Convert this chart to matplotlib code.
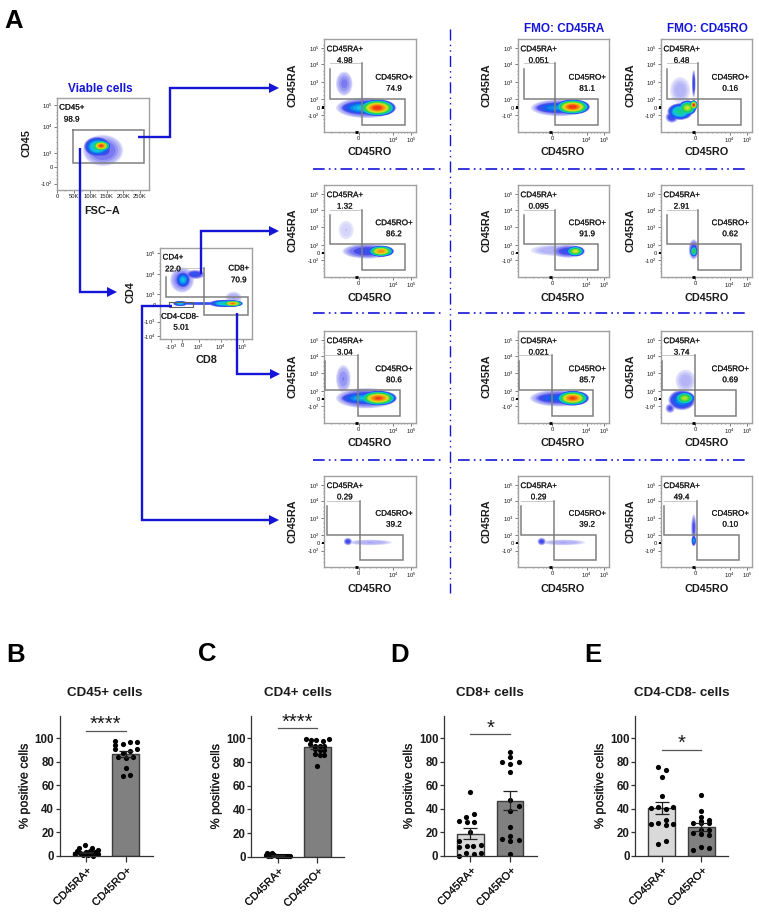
# flow gating figure plus four bar charts, laid out in pixel coordinates
import numpy as np
from matplotlib import pyplot as plt
from matplotlib import patheffects
from matplotlib.colors import LinearSegmentedColormap
from matplotlib.patches import Ellipse

plt.rcParams['font.family'] = ['Liberation Sans', 'DejaVu Sans']
plt.rcParams['mathtext.fontset'] = 'custom'
plt.rcParams['mathtext.rm'] = 'Liberation Sans'
plt.rcParams['mathtext.default'] = 'rm'

W = 759
H = 918
BLUE = '#1515d8'
TEXT = '#1a1a1a'
heavier = [patheffects.withStroke(linewidth=0.1, foreground=TEXT)]

# ---- bar chart data ----
bar_labels = ['CD45RA+', 'CD45RO+']

b_means = [3.0, 87.0]
b_errs = [0.7, 2.5]
b_ra_vals = [9.3, 6.5, 6.5, 5.0, 1.7, 2.8, 3.7, 2.8, 1.7, 4.5, 0.9, 0.5, 0.3, 2.0, 3.2, 4.0]
b_ra_off = [-0.03, -0.17, 0.14, 0.29, -0.28, -0.15, 0.0, 0.12, 0.27, -0.22, -0.08, 0.05, 0.18, 0.3, 0.22, 0.09]
b_ro_vals = [98, 94.3, 90.6, 95.2, 96.6, 96.6, 87.8, 89.2, 90.6, 83.9, 83, 83.9, 74.8, 68.3, 69.1]
b_ro_off = [-0.28, -0.28, -0.28, -0.08, 0.1, 0.28, -0.08, 0.1, 0.28, -0.19, 0, 0.19, 0, -0.08, 0.1]

c_means = [0.9, 92.5]
c_errs = [0.3, 1.5]
c_ra_vals = [3.4, 2.6, 2.8, 1.2, 0.6, 1.8, 1.0, 0.4, 0.8, 0.3, 0.5, 0.2, 0.6, 0.2, 0.4]
c_ra_off = [-0.26, -0.2, -0.14, -0.3, -0.24, -0.08, -0.02, -0.16, 0.05, 0.1, 0.16, 0.22, 0.27, 0.02, 0.3]
c_ro_vals = [99.4, 99, 99, 98, 99.7, 95, 94, 94, 94, 90.5, 91, 90, 87, 86, 86, 77]
c_ro_off = [-0.28, -0.15, -0.03, 0.14, 0.29, -0.18, -0.07, 0.06, 0.18, 0.18, -0.05, 0.08, -0.07, 0.06, 0.18, 0]

d_means = [19.0, 47.0]
d_errs = [4.4, 8.0]
d_ra_vals = [54.4, 33, 35.4, 30, 29, 29, 20.7, 12.7, 8, 8.5, 8.5, 9.3, 2.8, 1.7, 2.8, 0.3]
d_ra_off = [0, -0.11, 0.1, -0.28, -0.09, 0.1, 0, -0.28, -0.28, -0.09, 0.08, 0.27, -0.11, 0.1, 0.27, -0.28]
d_ro_vals = [88.4, 84.4, 80, 79.6, 78, 71, 47.6, 42.8, 38.5, 25, 17.3, 14.4, 12.7, 13.3, 2]
d_ro_off = [0, 0, -0.2, 0.22, 0, 0, 0, 0.22, 0, 0, 0, -0.2, 0, 0.22, 0]

e_means = [41.0, 24.5]
e_errs = [5.0, 3.5]
e_ra_vals = [75.6, 73, 67, 50.7, 40.5, 41.4, 39.7, 42, 30.6, 27.2, 27.8, 26.3, 27.2, 13, 10.5]
e_ra_off = [-0.09, 0.1, 0, 0, -0.28, -0.09, 0.1, 0.29, 0.1, -0.28, -0.09, 0.1, 0.29, 0.1, -0.09]
e_ro_vals = [51.6, 38.5, 33.4, 30, 31, 27.8, 27.8, 27.8, 19.3, 21.8, 22, 18.7, 17.8, 8, 6.5, 5]
e_ro_off = [0, 0, 0, 0, 0.2, -0.2, 0, 0.2, -0.2, 0, 0.2, 0, 0.2, 0, 0.2, -0.2]

# ---- flow panels: population blobs as (x, y, x radius, y radius, peak density), percent of the panel ----
viable_blobs = [(50, 43, 22, 17, 0.11), (44, 47, 15, 11, 0.42), (48, 48, 10, 6, 0.95)]
tcell_blobs = [(80, 45, 9, 7, 0.05), (24, 65, 13, 14, 0.1), (25, 65, 8, 9, 0.33), (38, 71, 11, 5, 0.16),
               (45, 39, 32, 1.5, 0.2), (22, 39, 8, 2.8, 0.35), (70, 39, 17, 4, 0.4), (79, 39, 11, 3.4, 0.9)]

r1_c1 = [(22, 52, 9, 13, 0.08), (46, 26, 33, 11, 0.16), (43, 26, 27, 8, 0.34), (58, 26, 20, 9, 0.98)]
r1_c2 = [(46, 26, 32, 9, 0.14), (42, 26, 26, 6.5, 0.28), (60, 27, 19, 8, 0.98)]
r1_c3 = [(21, 45, 11, 14, 0.04), (36, 52, 1.8, 15, 0.16), (12, 16, 7, 6, 0.16), (21, 22, 14, 9, 0.45), (29, 26, 10, 8, 0.7), (36, 29, 4, 5, 1.0)]
r2_c1 = [(24, 51, 8, 10, 0.02), (47, 28, 27, 8, 0.14), (62, 28, 14, 6, 0.88)]
r2_c2 = [(42, 29, 28, 6, 0.05), (55, 28, 19, 7, 0.14), (63, 28, 10, 5.5, 0.72)]
r2_c3 = [(36, 30, 5.5, 11, 0.14), (36, 28, 4, 6, 0.55)]
r3_c1 = [(21, 48, 8, 15, 0.07), (46, 27, 33, 11, 0.15), (42, 27, 26, 7, 0.32), (59, 27, 20, 8, 0.95)]
r3_c2 = [(45, 27, 32, 9, 0.14), (40, 27, 24, 6, 0.22), (60, 27, 18, 8, 0.95)]
r3_c3 = [(27, 46, 11, 12, 0.04), (10, 16, 5, 5, 0.12), (23, 25, 15, 11, 0.3), (26, 27, 11, 7, 0.68)]
r4_c1 = [(50, 27, 24, 3, 0.05), (26, 28, 4.5, 4, 0.14)]
r4_c2 = [(50, 27, 24, 3, 0.05), (26, 28, 4.5, 4, 0.14)]
r4_c3 = [(36, 43, 2.6, 15, 0.12), (36, 29, 2.4, 6, 0.3)]

# values printed beside the gates
ra_values = [['4.98', '0.051', '6.48'], ['1.32', '0.095', '2.91'], ['3.04', '0.021', '3.74'], ['0.29', '0.29', '49.4']]
ro_values = [['74.9', '81.1', '0.16'], ['86.2', '91.9', '0.62'], ['80.6', '85.7', '0.69'], ['39.2', '39.2', '0.10']]
row_blobs = [[r1_c1, r1_c2, r1_c3], [r2_c1, r2_c2, r2_c3], [r3_c1, r3_c2, r3_c3], [r4_c1, r4_c2, r4_c3]]

density = LinearSegmentedColormap.from_list('density', [
    (0.0, '#e4e4fb'), (0.03, '#b0b0f6'), (0.1, '#4848ec'), (0.2, '#1060f0'), (0.32, '#10c8e0'),
    (0.5, '#18d050'), (0.7, '#d8e820'), (0.85, '#f89010'), (1.0, '#f01010')])
density_levels = [0, 0.01, 0.02, 0.03, 0.05, 0.07, 0.1, 0.13, 0.16, 0.2, 0.24, 0.28, 0.32, 0.36, 0.4, 0.45,
                  0.5, 0.55, 0.6, 0.65, 0.7, 0.75, 0.8, 0.85, 0.9, 0.95, 1.0]

fig = plt.figure(figsize=(W/100, H/100), dpi=100)


def px_axes(left, top, right, bottom):
    return fig.add_axes([left/W, 1 - bottom/H, (right - left)/W, (bottom - top)/H])


def power(exp, neg=False):
    sign = '-' if neg else ''
    return sign + '10$^{' + str(exp) + '}$'


def flow_panel(box, blobs, xticks, xlabels, yticks, ylabels, xminor, yminor):
    ax = px_axes(*box)
    ax.set_xlim(0, 100)
    ax.set_ylim(0, 100)
    for level in density_levels:
        for cx, cy, rx, ry, peak in blobs:
            if peak >= level:
                scale = (1 - level/peak*0.98)**0.5
                ax.add_patch(Ellipse((cx, cy), 2*rx*scale, 2*ry*scale, color=density(level), lw=0))
    for side in ax.spines.values():
        side.set_color('#a0a0a0')
        side.set_linewidth(1.0)
    ax.set_xticks(xticks, xlabels, fontsize=4.2, color=TEXT)
    ax.set_yticks(yticks, ylabels, fontsize=4.2, color=TEXT)
    ax.set_xticks(xminor, minor=True)
    ax.set_yticks(yminor, minor=True)
    ax.tick_params(length=2, width=0.5, pad=1, color='#444444')
    ax.tick_params(which='minor', length=1, width=0.4, color='#444444')
    return ax


def gate(ax, xs, ys, color='#808080', lw=1.1):
    ax.plot(xs, ys, color=color, lw=lw, solid_joinstyle='miter', zorder=3)


def panel_text(ax, x, y, s, size=5.8):
    ax.text(x, y, s, fontsize=size, color=TEXT, ha='center', va='center', zorder=5, path_effects=heavier)


# ---- right hand grid of CD45RA / CD45RO panels ----
col_lefts = [324, 518, 661]
col_rights = [416, 609, 752]
row_tops = [39, 185, 331, 476]
row_bottoms = [132, 277, 423, 567]
ra_label_x = [293, 487, 631]
ro_label_x = [370, 563, 707]
ra_label_y = [85, 230, 376, 521]
ro_label_y = [152, 298, 443, 589]

# gate corners per row: left, middle, right and the y of top, split and bottom
gate_x = [(6.2, 41.2, 87.8), (6.2, 41.2, 87.8), (1.5, 36.9, 82.8), (3.6, 39.2, 85.5)]
gate_y = [(74, 35.4, 8), (73, 35.9, 8), (73.6, 35.7, 8), (73, 35, 7.3)]

grid_xticks = [37.6, 75.5, 94.5]
grid_xlabels = ['0', power(4), power(5)]
grid_yticks = [90, 73, 54, 35, 26, 18]
grid_ylabels = [power(5), power(4), power(3), power(2), '0', power(2, True)]
grid_xminor = [8, 16, 22, 27, 31, 44, 50, 56, 62, 66, 70, 80, 84, 87, 90, 97]
grid_yminor = [6, 10, 14, 22, 30, 40, 44, 48, 58, 62, 66, 77, 81, 84, 87, 94]

for r in range(4):
    for c in range(3):
        ax = flow_panel((col_lefts[c], row_tops[r], col_rights[c], row_bottoms[r]), row_blobs[r][c],
                        grid_xticks, grid_xlabels, grid_yticks, grid_ylabels, grid_xminor, grid_yminor)
        gl, gm, gr = gate_x[r]
        gt, gs, gb = gate_y[r]
        gate(ax, [gl, gm], [gt, gt], color='#c8c8c8', lw=0.7)
        gate(ax, [gl, gl, gr, gr, gm, gm], [67.5, gs, gs, gb, gb, gt])
        panel_text(ax, 22.6, 88.4, 'CD45RA+')
        panel_text(ax, 22.6, 76, ra_values[r][c])
        panel_text(ax, 76, 58, 'CD45RO+')
        panel_text(ax, 76, 46, ro_values[r][c])
        ax.plot([34, 37], [0, 0], color='black', lw=2, clip_on=False, solid_capstyle='butt', zorder=6)
        ax.plot([-1, -1], [25, 27.5], color='black', lw=1.5, clip_on=False, solid_capstyle='butt', zorder=6)

# ---- gating panels on the left ----
viable = flow_panel((57, 98, 149, 190), viable_blobs,
                    [0, 18, 36, 54, 72, 90], ['0', '50K', '100K', '150K', '200K', '250K'],
                    [92, 69, 40, 25, 7], [power(5), power(4), power(3), '0', power(2, True)],
                    [9, 27, 45, 63, 81], [12, 16, 20, 30, 35, 46, 52, 58, 64, 73, 77, 81, 85])
gate(viable, [17.4, 94.2, 94.2, 17.4, 17.4], [64.7, 64.7, 29, 29, 64.7])
panel_text(viable, 16, 89, 'CD45+')
panel_text(viable, 16, 76, '98.9')

tcell = flow_panel((160, 248, 252, 339), tcell_blobs,
                   [12, 24, 42, 66, 90], [power(3, True), '0', power(3), power(4), power(5)],
                   [94, 71, 49, 37, 19, 3], [power(5), power(4), power(3), '0', power(3, True), power(4, True)],
                   [50, 55, 60, 72, 77, 82, 94], [12, 28, 43, 55, 60, 64, 76, 80, 84])
gate(tcell, [6, 47.8], [77.5, 77.5], color='#c8c8c8', lw=0.7)
gate(tcell, [6, 6, 95.6, 95.6, 47.8, 47.8], [67.6, 46.5, 46.5, 26.5, 26.5, 77.5])
gate(tcell, [9.8, 35.9, 35.9, 9.8, 9.8], [41, 41, 35, 35, 41], color='#606060', lw=0.8)
panel_text(tcell, 14, 89, 'CD4+')
panel_text(tcell, 14, 76, '22.0')
panel_text(tcell, 85.5, 77, 'CD8+')
panel_text(tcell, 85.5, 64, '70.9')
panel_text(tcell, 21.4, 24, 'CD4-CD8-')
panel_text(tcell, 23, 12, '5.01')

# ---- bar charts ----
bar_boxes = {'B': (59.7, 716, 152.7, 856), 'C': (251.3, 716, 344.3, 856.7),
             'D': (444, 716, 537, 856), 'E': (635.3, 716, 728.3, 856)}
bar_titles = {'B': ('CD45+ cells', 105), 'C': ('CD4+ cells', 298), 'D': ('CD8+ cells', 490), 'E': ('CD4-CD8- cells', 682)}
bar_sig = {'B': ('****', 106.5), 'C': ('****', 108.8), 'D': ('*', 103.4), 'E': ('*', 90.4)}
bar_colors = ['#d9d9d9', '#808080']


def bar_panel(key, means, errs, ra_vals, ra_off, ro_vals, ro_off):
    ax = px_axes(*bar_boxes[key])
    ax.bar([1, 2], means, width=0.67, color=bar_colors, edgecolor='#3c3c3c', linewidth=1.0, zorder=1)
    ax.scatter(1 + np.asarray(ra_off), ra_vals, s=14, color='black', lw=0, zorder=2, clip_on=False)
    ax.scatter(2 + np.asarray(ro_off), ro_vals, s=14, color='black', lw=0, zorder=2, clip_on=False)
    ax.errorbar([1, 2], means, yerr=errs, fmt='none', ecolor='#222222', elinewidth=0.9, capsize=5, capthick=0.9, zorder=3)
    ax.set_xlim(0.337, 2.68)
    ax.set_ylim(0, 119)
    ax.set_xticks([1, 2], bar_labels, rotation=45, ha='right', rotation_mode='anchor', fontsize=7.8, color=TEXT)
    ax.set_yticks([0, 20, 40, 60, 80, 100])
    ax.tick_params(axis='y', labelsize=8.3, labelcolor=TEXT, length=3, width=0.9, pad=1, color='#333333')
    ax.tick_params(axis='x', length=4, width=0.9, pad=3, color='#333333')
    for label in ax.get_yticklabels():
        label.set_fontweight('bold')
    for label in ax.get_xticklabels():
        label.set_path_effects(heavier)
    ax.spines['top'].set_visible(False)
    ax.spines['right'].set_visible(False)
    ax.spines['left'].set_linewidth(0.9)
    ax.spines['bottom'].set_linewidth(0.9)
    ax.spines['left'].set_color('#333333')
    ax.spines['bottom'].set_color('#333333')
    ax.set_ylabel('% positive cells', fontsize=9, color=TEXT, labelpad=3, path_effects=heavier)
    stars, level = bar_sig[key]
    ax.plot([1, 2], [level, level], color='#555555', lw=0.9)
    ax.text(1.5, level + 5, stars, fontsize=14.5, ha='center', va='center', color=TEXT, clip_on=False)
    return ax


bar_panel('B', b_means, b_errs, b_ra_vals, b_ra_off, b_ro_vals, b_ro_off)
bar_panel('C', c_means, c_errs, c_ra_vals, c_ra_off, c_ro_vals, c_ro_off)
bar_panel('D', d_means, d_errs, d_ra_vals, d_ra_off, d_ro_vals, d_ro_off)
bar_panel('E', e_means, e_errs, e_ra_vals, e_ra_off, e_ro_vals, e_ro_off)

# ---- overlay for arrows, dividers and free text, in image pixels ----
over = fig.add_axes([0, 0, 1, 1], zorder=20)
over.set_xlim(0, W)
over.set_ylim(H, 0)
over.axis('off')
over.patch.set_alpha(0)


def arrow(xs, ys):
    over.plot(xs, ys, color=BLUE, lw=1.7, solid_joinstyle='miter', solid_capstyle='butt')
    over.plot(xs[-1], ys[-1], marker='>', ms=6.5, color=BLUE, mew=0)


arrow([138, 170, 170, 274], [137, 137, 88, 88])
arrow([80, 80, 112], [148, 292, 292])
arrow([201, 201, 274], [274, 231, 231])
arrow([237, 237, 275], [313, 374, 374])
arrow([172, 142, 142, 274], [306, 306, 520, 520])

over.plot([449.5, 449.5], [29, 593], color=BLUE, lw=1.0, ls=(0, (8, 3, 1, 3, 1, 3)))
for y in [168.7, 313, 460]:
    over.plot([313, 442], [y, y], color=BLUE, lw=1.2, ls=(0, (7, 2.5, 1, 2.5, 1, 2.5)))
    over.plot([458, 746], [y, y], color=BLUE, lw=1.2, ls=(0, (7, 2.5, 1, 2.5, 1, 2.5)))

for r in range(4):
    for c in range(3):
        over.text(ro_label_x[c], ro_label_y[r], 'CD45RO', fontsize=7.8, fontweight='bold', color=TEXT, ha='center', va='center')
        over.text(ra_label_x[c], ra_label_y[r], 'CD45RA', fontsize=7.8, fontweight='bold', color=TEXT, ha='center', va='center', rotation=90)

over.text(26, 143, 'CD45', fontsize=7.8, fontweight='bold', color=TEXT, ha='center', va='center', rotation=90)
over.text(102, 211, 'FSC\u2013A', fontsize=7.8, fontweight='bold', color=TEXT, ha='center', va='center')
over.text(130, 292, 'CD4', fontsize=7.8, fontweight='bold', color=TEXT, ha='center', va='center', rotation=90)
over.text(206, 360, 'CD8', fontsize=7.8, fontweight='bold', color=TEXT, ha='center', va='center')

over.text(100.7, 89.5, 'Viable cells', fontsize=8.5, fontweight='bold', color=BLUE, ha='center', va='center')
over.text(564, 29, 'FMO: CD45RA', fontsize=8.5, fontweight='bold', color=BLUE, ha='center', va='center')
over.text(707.7, 29, 'FMO: CD45RO', fontsize=8.5, fontweight='bold', color=BLUE, ha='center', va='center')

for letter, x, y in [('A', 4, 28), ('B', 6, 662), ('C', 198, 661), ('D', 390, 662), ('E', 584, 662)]:
    over.text(x, y, letter, fontsize=18.5, fontweight='bold', color='black', ha='left', va='baseline')

for key in bar_titles:
    title, x = bar_titles[key]
    over.text(x, 693, title, fontsize=9.6, fontweight='bold', color=TEXT, ha='center', va='center')

fig.savefig('out.png', dpi=100)
